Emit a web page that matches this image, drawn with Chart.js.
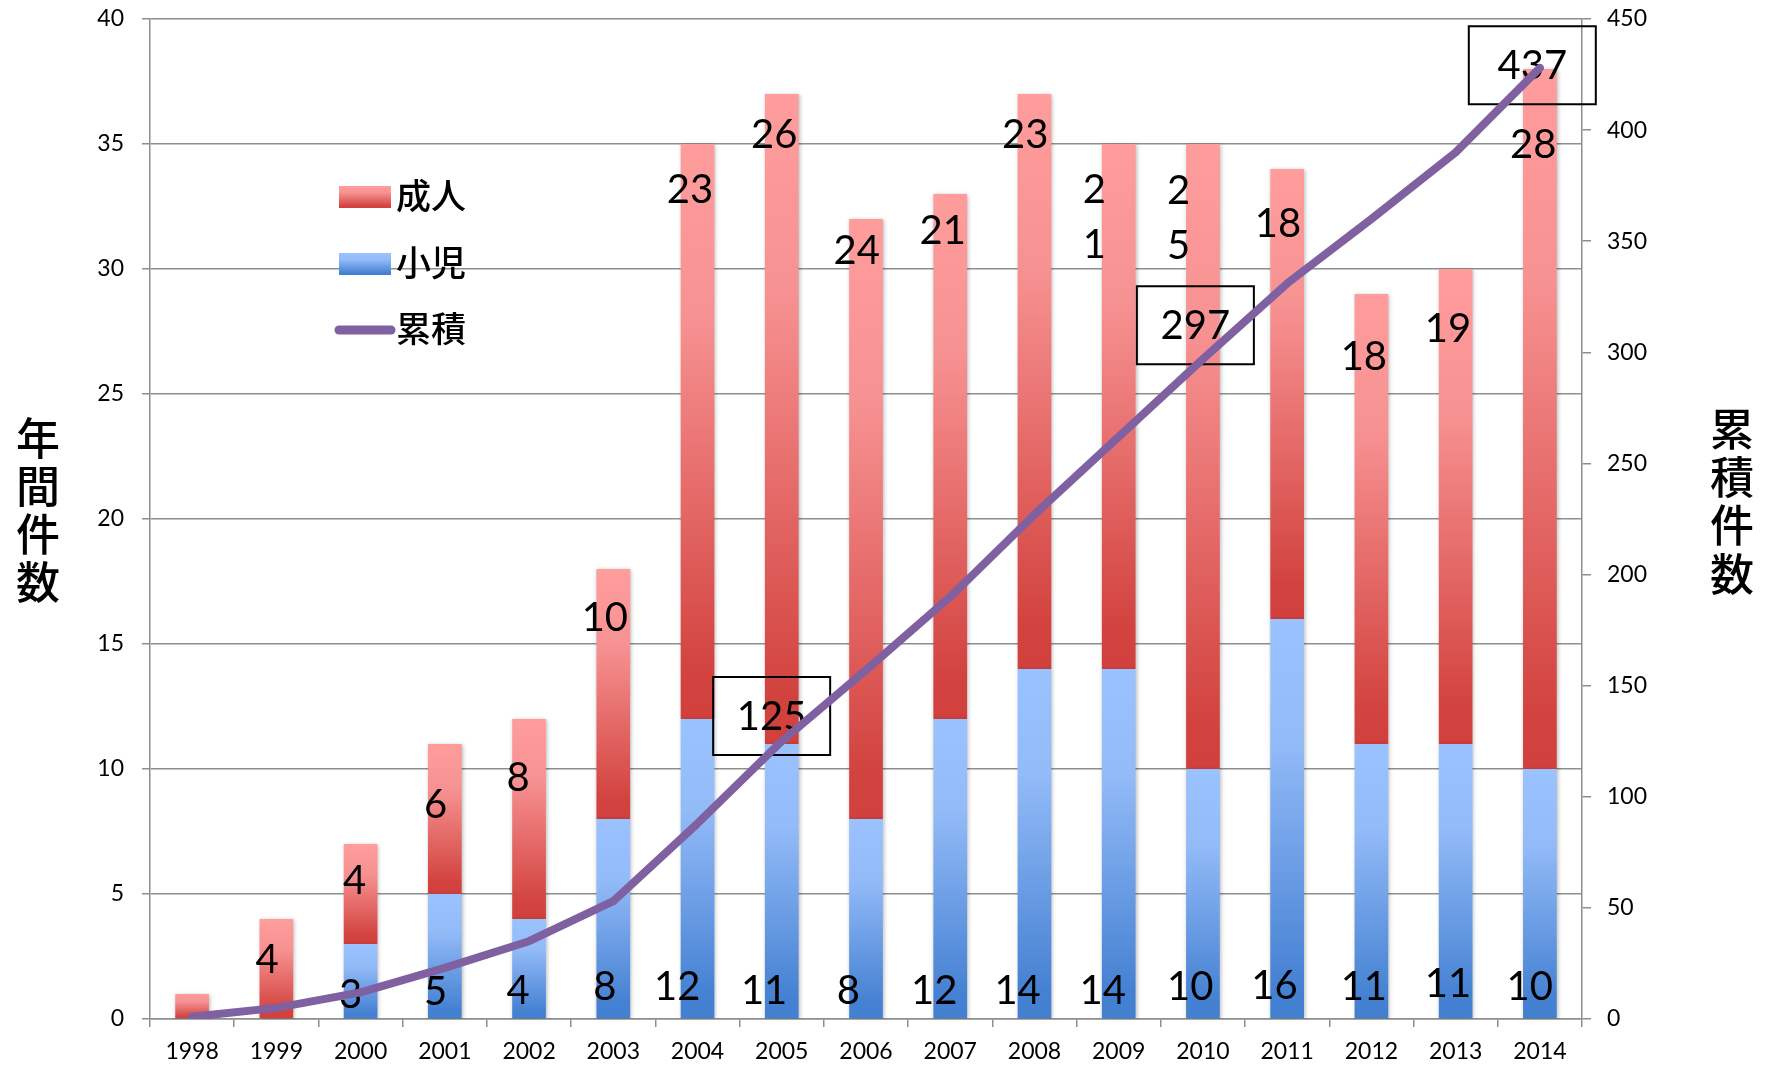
<!DOCTYPE html>
<html>
<head>
<meta charset="utf-8">
<script src="https://cdn.jsdelivr.net/npm/chart.js@4.4.0/dist/chart.umd.min.js"></script>
<style>
  html, body { margin: 0; padding: 0; background: #fff; }
  #wrap { width: 1773px; height: 1065px; position: relative; }
</style>
</head>
<body>
<div id="wrap"><canvas id="c" width="1773" height="1065"></canvas></div>
<script>
// ---------------- data ----------------
const years = ['1998','1999','2000','2001','2002','2003','2004','2005','2006','2007','2008','2009','2010','2011','2012','2013','2014'];
const childCounts = [0, 0, 3, 5, 4, 8, 12, 11, 8, 12, 14, 14, 10, 16, 11, 11, 10];
const adultCounts = [1, 4, 4, 6, 8, 10, 23, 26, 24, 21, 23, 21, 25, 18, 18, 19, 28];
const cumulativeCounts = [1, 5, 12, 23, 35, 53, 88, 125, 157, 190, 227, 262, 297, 331, 360, 390, 428];

const seriesNames = ['成人', '小児', '累積'];
const leftTitle = ['年', '間', '件', '数'];
const rightTitle = ['累', '積', '件', '数'];

// label texts (as shown in the picture)
const adultLabelText = ['', '4', '4', '6', '8', '10', '23', '26', '24', '21', '23', '2\n1', '2\n5', '18', '18', '19', '28'];
const childLabelText = ['', '', '3', '5', '4', '8', '12', '11', '8', '12', '14', '14', '10', '16', '11', '11', '10'];
const boxLabelText = ['125', '297', '437'];
const boxLabelIndex = [7, 12, 16];

// label placement: [category offset, value on left axis]
const adultLabelAt = [null, [-0.11, 2.35], [-0.07, 5.52], [-0.11, 8.54], [-0.13, 9.63], [-0.10, 16.05],
  [-0.09, 33.15], [-0.09, 35.37], [-0.11, 30.71], [-0.09, 31.52], [-0.11, 35.37], [-0.29, 32.04],
  [-0.29, 32.0], [-0.11, 31.79], [-0.09, 26.46], [-0.09, 27.59], [-0.08, 34.96]];
const childLabelAt = [null, null, [-0.12, 0.95], [-0.11, 1.08], [-0.13, 1.13], [-0.10, 1.26],
  [-0.24, 1.26], [-0.21, 1.13], [-0.21, 1.13], [-0.19, 1.13], [-0.20, 1.13], [-0.19, 1.13],
  [-0.15, 1.26], [-0.15, 1.31], [-0.09, 1.26], [-0.09, 1.40], [-0.12, 1.26]];
const boxLabelAt = [[-0.12, 12.12], [-0.09, 27.75], [-0.09, 38.15]];
const boxSize = [[117, 78], [117, 78], [127, 78]];

// ---------------- styles ----------------
const NUM_FONT = 'Lato, "Noto Sans CJK JP", sans-serif';
const CJK_FONT = '"Noto Sans CJK JP", sans-serif';
const GRID = '#8e8e8e';
const redStops = [[0, '#ff9c9c'], [0.3, '#f79292'], [0.92, '#d2433f'], [1, '#d1403d']];
const blueStops = [[0, '#9ac2ff'], [0.3, '#93bbf8'], [0.92, '#4581d2'], [1, '#4280d0']];
const LINE_COLOR = '#7f60a1';

function makeGrad(c, top, bottom, stops) {
  const g = c.createLinearGradient(0, top, 0, bottom);
  stops.forEach(s => g.addColorStop(s[0], s[1]));
  return g;
}

function segGradient(stops, lowerArr, valArr) {
  return function (ctx) {
    const chart = ctx.chart;
    if (!chart.chartArea || ctx.type !== 'data') return stops[0][1];
    const i = ctx.dataIndex;
    const y = chart.scales.y;
    const base = lowerArr ? lowerArr[i] : 0;
    const top = y.getPixelForValue(base + valArr[i]);
    const bottom = y.getPixelForValue(base);
    if (!(bottom > top)) return stops[0][1];
    return makeGrad(chart.ctx, top, bottom, stops);
  };
}

const overlay = {
  id: 'overlay',
  beforeDatasetDraw(chart, args) {
    const ds = chart.data.datasets[args.index];
    const c = chart.ctx;
    if (ds.type === 'line') {
      drawLabels(chart);
    } else {
      c.save();
      c.shadowColor = 'rgba(0,0,0,0.28)';
      c.shadowBlur = 4;
      c.shadowOffsetX = 1;
      c.shadowOffsetY = 1;
    }
  },
  afterDatasetDraw(chart, args) {
    const ds = chart.data.datasets[args.index];
    if (ds.type !== 'line') chart.ctx.restore();
  },
  afterDraw(chart) {
    drawLegend(chart);
    drawTitles(chart);
  }
};

function drawText(c, text, x, y, lineH) {
  const lines = text.split('\n');
  const start = y - (lines.length - 1) * lineH / 2;
  lines.forEach((l, k) => c.fillText(l, x, start + k * lineH));
}

function drawLabels(chart) {
  const c = chart.ctx, xs = chart.scales.x, ys = chart.scales.y;
  c.save();
  c.fillStyle = '#000';
  c.font = '40px ' + NUM_FONT;
  c.textAlign = 'center';
  c.textBaseline = 'middle';
  adultLabelText.forEach((t, i) => {
    const p = adultLabelAt[i];
    if (!t || !p) return;
    drawText(c, t, xs.getPixelForValue(i + p[0]), ys.getPixelForValue(p[1]), 55);
  });
  childLabelText.forEach((t, i) => {
    const p = childLabelAt[i];
    if (!t || !p) return;
    drawText(c, t, xs.getPixelForValue(i + p[0]), ys.getPixelForValue(p[1]), 55);
  });
  boxLabelText.forEach((t, k) => {
    const i = boxLabelIndex[k], p = boxLabelAt[k], s = boxSize[k];
    const x = xs.getPixelForValue(i + p[0]), y = ys.getPixelForValue(p[1]);
    c.strokeStyle = '#000';
    c.lineWidth = 2;
    c.strokeRect(x - s[0] / 2, y - s[1] / 2, s[0], s[1]);
    c.fillText(t, x, y + 1);
  });
  c.restore();
}

function drawLegend(chart) {
  const c = chart.ctx;
  c.save();
  const bx = 339, bw = 52, bh = 22;
  const rows = [197, 264, 330];
  c.fillStyle = makeGrad(c, rows[0] - bh / 2, rows[0] + bh / 2, redStops);
  c.fillRect(bx, rows[0] - bh / 2, bw, bh);
  c.fillStyle = makeGrad(c, rows[1] - bh / 2, rows[1] + bh / 2, blueStops);
  c.fillRect(bx, rows[1] - bh / 2, bw, bh);
  c.strokeStyle = LINE_COLOR;
  c.lineWidth = 9;
  c.lineCap = 'round';
  c.beginPath();
  c.moveTo(bx, rows[2]);
  c.lineTo(bx + bw, rows[2]);
  c.stroke();
  c.fillStyle = '#000';
  c.font = '500 35px ' + CJK_FONT;
  c.textAlign = 'left';
  c.textBaseline = 'middle';
  seriesNames.forEach((n, k) => c.fillText(n, 396, rows[k] - 1));
  c.restore();
}

function drawTitles(chart) {
  const c = chart.ctx;
  c.save();
  c.fillStyle = '#000';
  c.font = '500 44px ' + CJK_FONT;
  c.textAlign = 'center';
  c.textBaseline = 'middle';
  leftTitle.forEach((ch, k) => c.fillText(ch, 38, 438 + k * 48));
  rightTitle.forEach((ch, k) => c.fillText(ch, 1732, 429 + k * 48.3));
  c.restore();
}

const numFont = { family: NUM_FONT, size: 23 };

function noPad(s) { s.paddingTop = 0; s.paddingBottom = 0; s.paddingLeft = 0; s.paddingRight = 0; }

new Chart(document.getElementById('c'), {
  type: 'bar',
  data: {
    labels: years,
    datasets: [
      {
        type: 'line', label: seriesNames[2], data: cumulativeCounts, yAxisID: 'y1', order: 0,
        borderColor: LINE_COLOR, borderWidth: 8, pointRadius: 0, tension: 0,
        borderCapStyle: 'round', borderJoinStyle: 'round', fill: false
      },
      {
        label: seriesNames[1], data: childCounts, yAxisID: 'y', order: 1, stack: 's',
        backgroundColor: segGradient(blueStops, null, childCounts),
        barPercentage: 0.4, categoryPercentage: 1, borderWidth: 0
      },
      {
        label: seriesNames[0], data: adultCounts, yAxisID: 'y', order: 2, stack: 's',
        backgroundColor: segGradient(redStops, childCounts, adultCounts),
        barPercentage: 0.4, categoryPercentage: 1, borderWidth: 0
      }
    ]
  },
  options: {
    responsive: false,
    devicePixelRatio: 1,
    animation: false,
    layout: { padding: { top: 19, left: 0, right: 0, bottom: 0 } },
    plugins: { legend: { display: false }, tooltip: { enabled: false } },
    scales: {
      x: {
        stacked: true, offset: true,
        grid: { offset: true, drawOnChartArea: false, tickLength: 8, color: GRID, lineWidth: 1.5 },
        border: { color: GRID, width: 1.5 },
        ticks: { font: numFont, color: '#000', padding: 11, maxRotation: 0, autoSkip: false },
        afterFit(s) { s.height = 46; noPad(s); }
      },
      y: {
        stacked: true, min: 0, max: 40,
        grid: { color: GRID, lineWidth: 1.5, tickLength: 8 },
        border: { color: GRID, width: 1.5 },
        ticks: { stepSize: 5, font: numFont, color: '#000', padding: 18 },
        afterFit(s) { s.width = 150; noPad(s); }
      },
      y1: {
        position: 'right', min: 0, max: 450,
        grid: { drawOnChartArea: false, color: GRID, lineWidth: 1.5, tickLength: 9 },
        border: { color: GRID, width: 1.5 },
        ticks: { stepSize: 50, font: numFont, color: '#000', padding: 16 },
        afterFit(s) { s.width = 191; noPad(s); }
      }
    }
  },
  plugins: [overlay]
});
</script>
</body>
</html>
